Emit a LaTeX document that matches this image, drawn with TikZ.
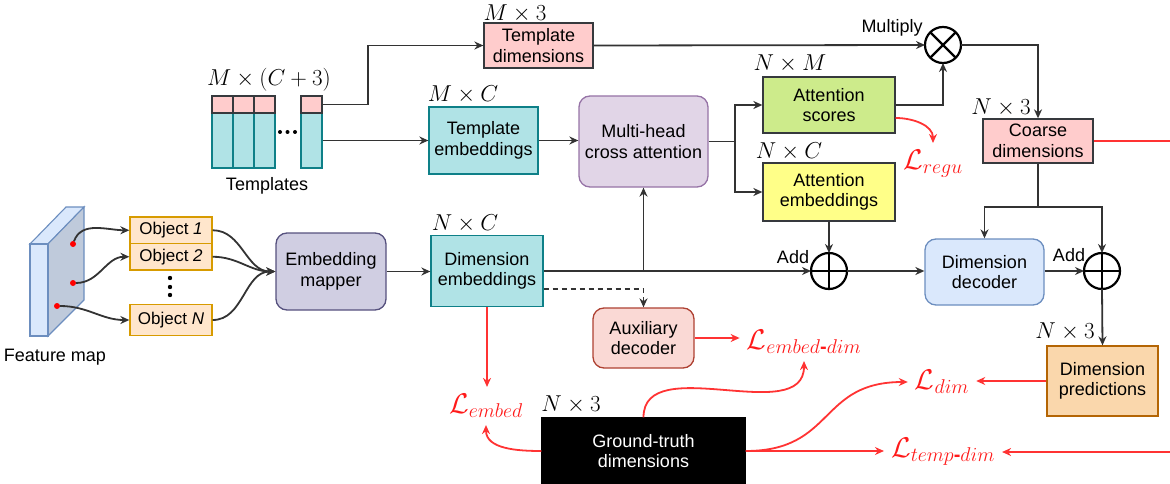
\RequirePackage{fix-cm}
\documentclass[tikz,border=0pt]{standalone}
\usepackage{amsmath}
\usepackage[no-math]{fontspec}
\setmainfont{Liberation Sans}
\usetikzlibrary{arrows.meta,calc}
\definecolor{lred}{HTML}{FF3333}
\definecolor{ltxt}{HTML}{FF1A1A}
\definecolor{lnk}{HTML}{333333}
\definecolor{pinkf}{HTML}{FFCCCC}
\definecolor{grayd}{HTML}{36393D}
\definecolor{tealf}{HTML}{B0E3E6}
\definecolor{teald}{HTML}{0E8088}
\definecolor{purf}{HTML}{E1D5E7}
\definecolor{purd}{HTML}{9673A6}
\definecolor{greenf}{HTML}{CDEB8B}
\definecolor{yelf}{HTML}{FFFF88}
\definecolor{mapf}{HTML}{D0CEE2}
\definecolor{mapd}{HTML}{56517E}
\definecolor{auxf}{HTML}{FAD9D5}
\definecolor{auxd}{HTML}{AE4132}
\definecolor{bluef}{HTML}{DAE8FC}
\definecolor{blued}{HTML}{6C8EBF}
\definecolor{orgf}{HTML}{FAD7AC}
\definecolor{orgd}{HTML}{B46504}
\definecolor{objf}{HTML}{FFE6CC}
\definecolor{objd}{HTML}{D79B00}
\definecolor{fside}{HTML}{BFCADB}
\newcommand\txf{\fontsize{18}{20.5}\selectfont}
\newcommand\objtxf{\fontsize{17}{19}\selectfont}
\newcommand\mtxf{\fontsize{23}{25}\selectfont}
\newcommand\losstxf{\fontsize{28.5}{30}\selectfont}
\begin{document}
\begin{tikzpicture}[x=1pt,y=-1pt,
  box/.style={draw=grayd, line width=1.3pt, align=center, inner sep=0pt, font=\txf},
  rbox/.style={box, rounded corners=11pt},
  objbox/.style={draw=objd, fill=objf, line width=1.3pt, inner sep=0pt, minimum width=82pt, font=\objtxf},
  mlab/.style={inner sep=0pt, font=\mtxf},
  tlab/.style={inner sep=0pt, font=\txf},
  loss/.style={text=ltxt, font=\losstxf, inner sep=7pt},
  opcirc/.style={circle, draw=black, line width=2.2pt, minimum size=36pt, inner sep=0pt, outer sep=0pt},
  conn/.style={draw=lnk, line width=1.8pt},
  arr/.style={conn, -{Stealth[length=9pt,width=8pt]}},
  redarr/.style={draw=lred, line width=1.8pt, -{Stealth[length=9pt,width=8pt]}},
  dasharr/.style={arr, dash pattern=on 5pt off 4pt},
  reddot/.style={circle, fill=red, inner sep=0pt, minimum size=6pt, outer sep=0pt},
  tcellp/.style={draw=grayd, fill=pinkf, line width=1.1pt, minimum width=21pt, minimum height=17pt, inner sep=0pt},
  tcellt/.style={draw=teald, fill=tealf, line width=1.1pt, minimum width=21pt, minimum height=55pt, inner sep=0pt}
]
\useasboundingbox (0,0) rectangle (1170,484);

% ---- Templates ----
\foreach \cx in {222.5,243.5,264.5}{
  \node[tcellt] at (\cx,140.5) {};
  \node[tcellp] at (\cx,104.5) {};
}
\node[tcellt] (tt) at (311.5,140.5) {};
\node[tcellp] (tp) at (311.5,104.5) {};
\foreach \dx in {280,287.5,295}{ \fill (\dx,132) circle (2pt); }
\node[mlab] (lmc3) at (269,80) {$M\times(C+3)$};
\node[tlab] (ltpl) at (267,186) {Templates};

% ---- Feature map ----
\fill[fill=bluef, draw=blued, line width=1.1pt] (30,244) -- (66,207) -- (84,207) -- (48,244) -- cycle;
\fill[fill=fside, draw=blued, line width=1.1pt] (48,244) -- (84,207) -- (84,300) -- (48,336) -- cycle;
\fill[fill=bluef, draw=blued, line width=1.1pt] (30,244) rectangle (48,336);
\node[tlab] (lfm) at (55,357) {Feature map};
\node[reddot] (p1) at (73,244) {};
\node[reddot] (p2) at (73,283) {};
\node[reddot] (p3) at (57,306) {};

% ---- Objects ----
\node[objbox, minimum height=26.5pt] (o1) at (171,230.25) {Object \textit{1}};
\node[objbox, minimum height=26.5pt] (o2) at (171,256.75) {Object \textit{2}};
\node[objbox, minimum height=31pt] (oN) at (171,320) {Object \textit{N}};
\foreach \dy in {278,287,295}{ \fill (170,\dy) circle (2.2pt); }

% ---- Boxes ----
\node[rbox, draw=mapd, fill=mapf, minimum width=110pt, minimum height=77pt] (map) at (331,271.5) {Embedding\\mapper};
\node[box, draw=teald, fill=tealf, minimum width=112pt, minimum height=71pt] (demb) at (487,271) {Dimension\\embeddings};
\node[mlab] (lnc1) at (465,224) {$N\times C$};
\node[box, fill=pinkf, minimum width=109pt, minimum height=45pt] (tdim) at (538.5,45.5) {Template\\dimensions};
\node[mlab] (lm3) at (515,13.5) {$M\times 3$};
\node[box, draw=teald, fill=tealf, minimum width=109pt, minimum height=67pt] (temb) at (483.5,140.5) {Template\\embeddings};
\node[mlab] (lmc) at (463,95) {$M\times C$};
\node[rbox, draw=purd, fill=purf, minimum width=129pt, minimum height=91pt] (mha) at (643.5,141.5) {Multi-head\\cross attention};
\node[box, fill=greenf, minimum width=132pt, minimum height=56pt] (asc) at (829,105) {Attention\\scores};
\node[mlab] (lnm) at (790,64) {$N\times M$};
\node[box, fill=yelf, minimum width=132pt, minimum height=58pt] (aemb) at (829,192) {Attention\\embeddings};
\node[mlab] (lnc2) at (789,152) {$N\times C$};
\node[box, fill=pinkf, minimum width=110pt, minimum height=44pt] (coarse) at (1038,141) {Coarse\\dimensions};
\node[mlab] (ln3a) at (1001,108) {$N\times 3$};
\node[rbox, draw=auxd, fill=auxf, minimum width=101pt, minimum height=60pt] (aux) at (643.5,338) {Auxiliary\\decoder};
\node[rbox, draw=blued, fill=bluef, minimum width=119pt, minimum height=66pt] (dec) at (984.5,272) {Dimension\\decoder};
\node[box, draw=orgd, fill=orgf, minimum width=111pt, minimum height=70pt] (pred) at (1102.5,381) {Dimension\\predictions};
\node[mlab] (ln3b) at (1065,332) {$N\times 3$};
\node[box, draw=black, fill=black, text=white, minimum width=203pt, minimum height=66pt] (gt) at (643.5,451) {Ground-truth\\dimensions};
\node[mlab] (ln3c) at (571,405) {$N\times 3$};

% ---- Operators ----
\node[opcirc] (mult) at (943,45) {};
\draw[line width=2.2pt] (mult.north east) -- (mult.south west) (mult.north west) -- (mult.south east);
\node[tlab] (lmul) at (892,28) {Multiply};
\node[opcirc] (add1) at (829,271) {};
\draw[line width=2.2pt] (add1.north) -- (add1.south) (add1.west) -- (add1.east);
\node[tlab] (ladd1) at (793,257) {Add};
\node[opcirc] (add2) at (1102,271) {};
\draw[line width=2.2pt] (add2.north) -- (add2.south) (add2.west) -- (add2.east);
\node[tlab] (ladd2) at (1069,255) {Add};

% ---- Losses ----
\node[loss] (Lregu) at (933,164) {$\mathcal{L}_{regu}$};
\node[loss] (Led) at (804,342) {$\mathcal{L}_{embed\text{\bfseries -}dim}$};
\node[loss] (Le) at (486,406) {$\mathcal{L}_{embed}$};
\node[loss] (Ld) at (942,382) {$\mathcal{L}_{dim}$};
\node[loss] (Ltd) at (943,452) {$\mathcal{L}_{temp\text{\bfseries -}dim}$};

% ---- Coordinates ----
\coordinate (tb) at (368,0);
\coordinate (sp) at (735,141.5);
\coordinate (cj) at (1038,207);
\coordinate (rc) at (1190,0);

% ---- Black connectors ----
\draw[arr] (p1) to[out=70,in=180] (o1.west);
\draw[arr] (p2) to[out=0,in=180] (o2.west);
\draw[arr] (p3) to[out=0,in=180] (oN.west);
\draw[arr] (o1.east) to[out=0,in=180] (map.west);
\draw[arr] (o2.east) to[out=0,in=180] (map.west);
\draw[arr] (oN.east) to[out=0,in=180] (map.west);
\draw[arr] (map.east) -- (map.east -| demb.west);
\draw[arr] (tp.east) -- (tp.east -| tb) |- (tdim.west);
\draw[arr] (tt.east) -- (tt.east -| temb.west);
\draw[arr] (tdim.east) -- (mult.west);
\draw[arr] (mult.east) -| (coarse.north);
\draw[arr] (temb.east) -- (temb.east -| mha.west);
\draw[conn] (mha.east) -- (sp);
\draw[arr] (sp) |- (asc.west);
\draw[arr] (sp) |- (aemb.west);
\draw[arr] (asc.east) -| (mult.south);
\draw[arr] (aemb.south) -- (add1.north);
\draw[arr] (demb.east) -- (add1.west);
\draw[arr] (demb.east -| mha.south) -- (mha.south);
\draw[dasharr] ($(demb.east)+(0,18)$) -| (aux.north);
\draw[arr] (add1.east) -- (add1.east -| dec.west);
\draw[conn] (coarse.south) -- (cj);
\draw[arr] (cj) -| (dec.north);
\draw[arr] (cj) -| (add2.north);
\draw[arr] (dec.east |- add2.west) -- (add2.west);
\draw[arr] (add2.south) -- (pred.north);

% ---- Red connectors ----
\draw[redarr] ($(asc.east)+(0,13)$) to[out=0,in=90] (Lregu.north);
\draw[redarr] (aux.east) -- (aux.east -| Led.west);
\draw[redarr] (demb.south) -- (demb.south |- Le.north);
\draw[redarr] (gt.west) to[out=180,in=-90] (Le.south);
\draw[redarr] (gt.north) to[out=90,in=-90] (Led.south);
\draw[redarr] (gt.east) -- (gt.east -| Ltd.west);
\draw[redarr] (gt.east) to[out=0,in=180,looseness=1.3] (Ld.west);
\draw[redarr] (pred.west) -- (pred.west -| Ld.east);
\draw[redarr] (coarse.east) -- (coarse.east -| rc) |- (Ltd.east);
\end{tikzpicture}
\end{document}
